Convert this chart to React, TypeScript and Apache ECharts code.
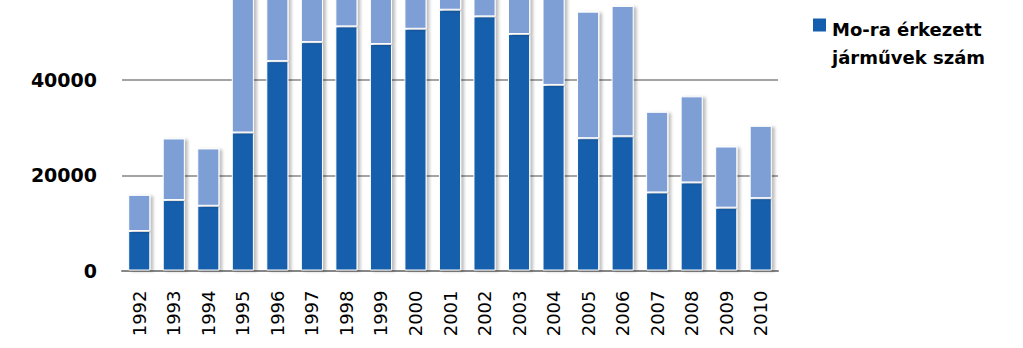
import React, { useEffect, useRef } from "react";
import * as echarts from "echarts";

const years = ["1992","1993","1994","1995","1996","1997","1998","1999","2000","2001","2002","2003","2004","2005","2006","2007","2008","2009","2010"];
const arrived = [8300, 14800, 13600, 29000, 44000, 48000, 51300, 47600, 50800, 54800, 53400, 49700, 39000, 27800, 28200, 16400, 18500, 13200, 15200];
const other = [7600, 12950, 12050, 31000, 18000, 16000, 16700, 18400, 19200, 17200, 16600, 16300, 21000, 26600, 27400, 16950, 18100, 12850, 15200];
const yTicks = [0, 20000, 40000, 60000];
const legendName = "Mo-ra érkezett\njárművek szám";

const DARK = "#135EAD";
const LIGHT = "#7E9ED6";
// the reference is a crop: the chart's upper part lies above the page
const OFFSET = 130.5;

export default function App() {
  const ref = useRef<HTMLDivElement>(null);
  useEffect(() => {
    if (!ref.current) return;
    const chart = echarts.init(ref.current, undefined, { renderer: "svg" });
    const barStyle = (color: string) => ({
      color,
      borderColor: "#ffffff",
      borderWidth: 1,
      shadowColor: "rgba(0,0,0,0.25)",
      shadowBlur: 3,
      shadowOffsetX: 3,
      shadowOffsetY: 1,
    });
    chart.setOption({
      animation: false,
      backgroundColor: "#ffffff",
      grid: {
        left: 122,
        right: 245,
        top: OFFSET - 15.5,
        bottom: 78.5,
        containLabel: false,
        outerBoundsMode: "none",
      },
      xAxis: {
        type: "category",
        data: years,
        axisLine: { lineStyle: { color: "#868686", width: 2 } },
        axisTick: { show: false },
        axisLabel: {
          rotate: 90,
          margin: 20,
          color: "#000000",
          fontFamily: "DejaVu Sans",
          fontSize: 18,
        },
      },
      yAxis: {
        type: "value",
        min: yTicks[0],
        max: yTicks[yTicks.length - 1],
        interval: 20000,
        axisLine: { show: false },
        axisTick: { show: false },
        splitLine: { lineStyle: { color: "#868686", width: 1.5 } },
        axisLabel: {
          margin: 25,
          showMaxLabel: false,
          color: "#000000",
          fontFamily: "DejaVu Sans",
          fontWeight: "bold",
          fontSize: 19,
          formatter: (v: number) => String(v),
        },
      },
      series: [
        {
          name: legendName,
          type: "bar",
          stack: "total",
          data: arrived,
          barCategoryGap: "36%",
          itemStyle: barStyle(DARK),
        },
        {
          name: "other",
          type: "bar",
          stack: "total",
          data: other,
          barCategoryGap: "36%",
          itemStyle: barStyle(LIGHT),
        },
      ],
      graphic: [
        {
          type: "rect",
          left: 813,
          top: OFFSET + 18,
          shape: { width: 13, height: 13 },
          style: { fill: DARK },
        },
        {
          type: "text",
          left: 832,
          top: OFFSET + 15,
          style: {
            text: legendName,
            fill: "#000000",
            font: "bold 18px 'DejaVu Sans'",
            lineHeight: 28,
            align: "left",
          },
        },
      ],
    });
    return () => chart.dispose();
  }, []);
  return (
    <div
      ref={ref}
      style={{ width: 1023, height: 348 + OFFSET, position: "absolute", left: 0, top: -OFFSET }}
    />
  );
}
